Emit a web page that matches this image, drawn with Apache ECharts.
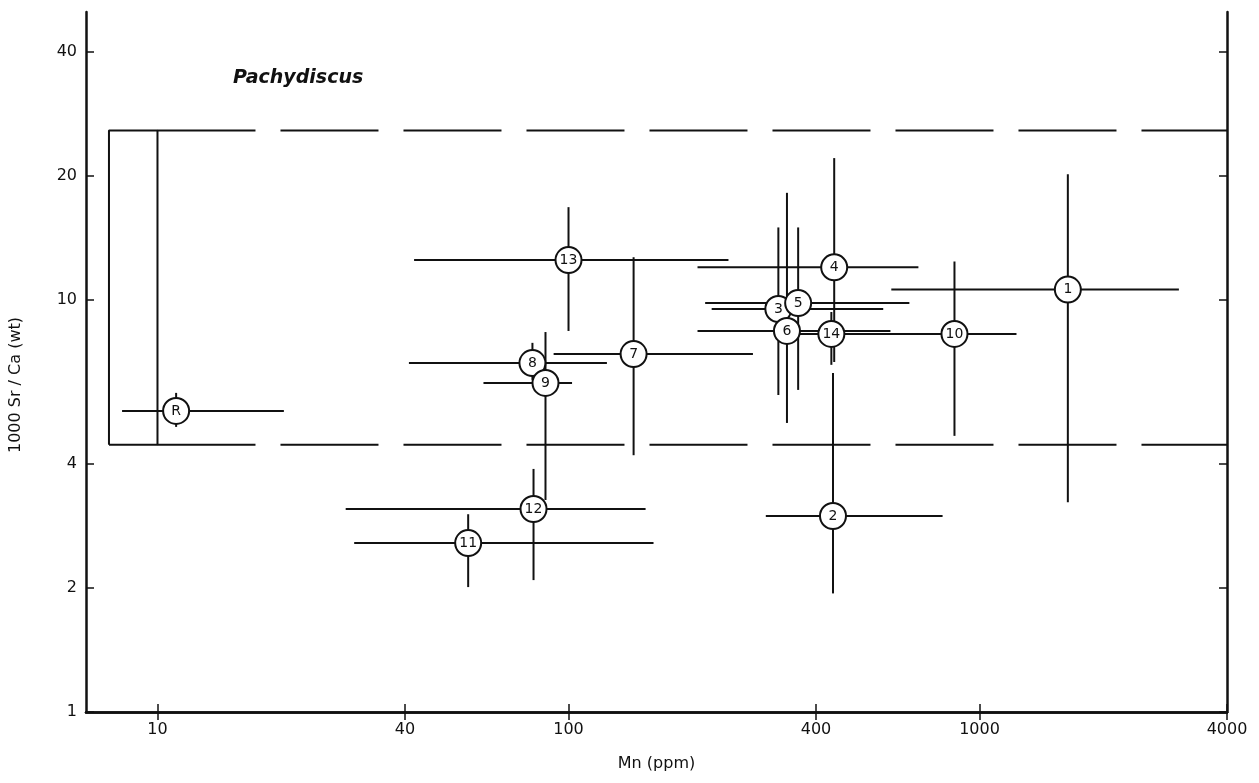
<!DOCTYPE html>
<html>
<head>
<meta charset="utf-8">
<script src="https://cdn.jsdelivr.net/npm/echarts@6/dist/echarts.min.js"></script>
<style>html,body{margin:0;padding:0;background:#fff}#c{width:1259px;height:783px}</style>
</head>
<body>
<div id="c"></div>
<script>
// ---- data ----
const xTicks = [10, 40, 100, 400, 1000, 4000];
const yTicks = [1, 2, 4, 10, 20, 40];
const sampleLabels = ['R', '1', '2', '3', '4', '5', '6', '7', '8', '9', '10', '11', '12', '13', '14'];
const mn      = [11.1, 1640, 440, 324, 443, 362, 340, 144, 81.7, 87.9, 869, 57.0, 82.2, 100, 436];
const mnLow   = [8.2,  610,  302, 223, 206, 215, 206, 92,  40.9, 62.1, 551, 30.1, 28.7, 42.1, 364];
const mnHigh  = [20.3, 3055, 813, 583, 710, 675, 607, 281, 124,  102, 1230, 161, 154, 245, 706];
const srca     = [5.38, 10.6, 2.99, 9.51, 12.0, 9.83, 8.41, 7.39, 7.03, 6.29, 8.27, 2.57, 3.11, 12.5, 8.27];
const srcaLow  = [4.92, 3.23, 1.94, 5.88, 7.07, 6.05, 5.03, 4.20, 6.40, 3.27, 4.68, 2.01, 2.09, 8.41, 6.96];
const srcaHigh = [5.95, 20.2, 6.65, 15.0, 22.1, 15.0, 18.2, 12.7, 7.87, 8.36, 12.4, 3.02, 3.89, 16.8, 9.35];
// modern-range box and envelope lines
const boxMn = [7.62, 10];
const boxSrCa = [4.45, 25.8];
const envelopeMn = [10, 4000];
const xRange = [6.7, 4000];
const yRange = [1, 50];

const L = Math.log10;
const ink = '#111';
const font = 'DejaVu Sans';

const errData = mn.map((v, i) => [L(v), L(srca[i]), L(mnLow[i]), L(mnHigh[i]), L(srcaLow[i]), L(srcaHigh[i])]);
const ptData = mn.map((v, i) => ({ value: [L(v), L(srca[i])], name: sampleLabels[i] }));

function axisX(pos, showLabel) {
  return {
    type: 'value', position: pos, min: L(xRange[0]), max: L(xRange[1]),
    axisLine: { show: true, lineStyle: { color: ink, width: 2.5 } },
    axisTick: { show: true, inside: true, length: 8, lineStyle: { color: ink, width: 1.5 }, customValues: xTicks.map(L) },
    axisLabel: { show: showLabel, customValues: xTicks.map(L), formatter: v => String(Math.round(Math.pow(10, v))), color: ink, fontFamily: font, fontSize: 16, margin: 10 },
    splitLine: { show: false },
    name: showLabel ? 'Mn (ppm)' : '', nameLocation: 'middle', nameGap: 44,
    nameTextStyle: { color: ink, fontFamily: font, fontSize: 16 }
  };
}
function axisY(pos, showLabel) {
  return {
    type: 'value', position: pos, min: L(yRange[0]), max: L(yRange[1]),
    axisLine: { show: true, lineStyle: { color: ink, width: 2.5 } },
    axisTick: { show: true, inside: true, length: 8, lineStyle: { color: ink, width: 1.5 }, customValues: yTicks.map(L) },
    axisLabel: { show: showLabel, customValues: yTicks.map(L), formatter: v => String(Math.round(Math.pow(10, v))), color: ink, fontFamily: font, fontSize: 16, margin: 9 },
    splitLine: { show: false },
    name: showLabel ? '1000 Sr / Ca (wt)' : '', nameLocation: 'middle', nameGap: 62,
    nameTextStyle: { color: ink, fontFamily: font, fontSize: 16, padding: [0, 46, 0, 0] }
  };
}

const chart = echarts.init(document.getElementById('c'), null, { renderer: 'canvas' });
chart.setOption({
  animation: false,
  backgroundColor: '#fff',
  title: {
    text: 'Pachydiscus', left: 228, top: 64,
    textStyle: { fontFamily: font, fontStyle: 'italic', fontWeight: 'bold', fontSize: 19, color: ink }
  },
  grid: { left: 86, right: 32, top: 12, bottom: 71 },
  xAxis: [axisX('bottom', true), axisX('top', false)],
  yAxis: [axisY('left', true), axisY('right', false)],
  series: [
    { // modern range box
      type: 'line', symbol: 'none', silent: true,
      data: [[L(boxMn[0]), L(boxSrCa[0])], [L(boxMn[0]), L(boxSrCa[1])], [L(boxMn[1]), L(boxSrCa[1])], [L(boxMn[1]), L(boxSrCa[0])], [L(boxMn[0]), L(boxSrCa[0])]],
      lineStyle: { color: ink, width: 2 }
    },
    { type: 'line', symbol: 'none', silent: true,
      data: [[L(envelopeMn[0]), L(boxSrCa[1])], [L(envelopeMn[1]), L(boxSrCa[1])]],
      lineStyle: { color: ink, width: 2, type: [98, 25] } },
    { type: 'line', symbol: 'none', silent: true,
      data: [[L(envelopeMn[0]), L(boxSrCa[0])], [L(envelopeMn[1]), L(boxSrCa[0])]],
      lineStyle: { color: ink, width: 2, type: [98, 25] } },
    {
      type: 'custom', data: errData, encode: { x: 0, y: 1 },
      renderItem: function (params, api) {
        const x = api.value(0), y = api.value(1);
        const a = api.coord([api.value(2), y]), b = api.coord([api.value(3), y]);
        const c = api.coord([x, api.value(4)]), d = api.coord([x, api.value(5)]);
        const st = { stroke: ink, lineWidth: 2 };
        return { type: 'group', children: [
          { type: 'line', shape: { x1: a[0], y1: a[1], x2: b[0], y2: b[1] }, style: st },
          { type: 'line', shape: { x1: c[0], y1: c[1], x2: d[0], y2: d[1] }, style: st }
        ] };
      }
    },
    {
      type: 'scatter', data: ptData, symbol: 'circle', symbolSize: 26, z: 5,
      itemStyle: { color: '#fff', borderColor: ink, borderWidth: 2, opacity: 1 },
      label: { show: true, position: 'inside', formatter: p => p.name, color: ink, fontFamily: font, fontSize: 14 }
    }
  ]
});
</script>
</body>
</html>
